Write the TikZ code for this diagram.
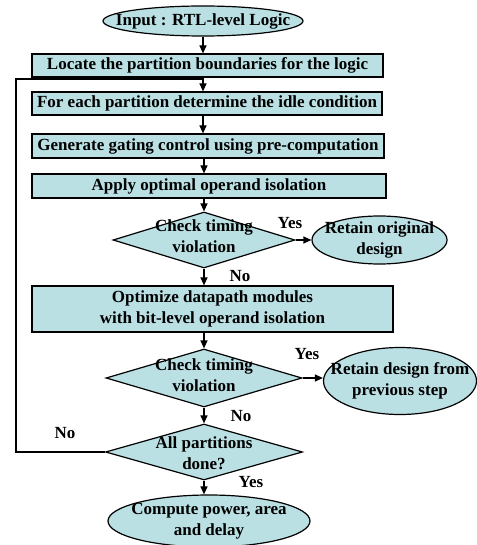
\documentclass[tikz,border=0pt]{standalone}
\usepackage{fontspec}
\setmainfont{Liberation Serif}
\usetikzlibrary{shapes.geometric,arrows.meta}
\definecolor{fillc}{RGB}{186,224,228}
\begin{document}
\begin{tikzpicture}[x=1bp,y=-1bp,
  every node/.style={font=\bfseries\fontsize{17bp}{21bp}\selectfont},
  box/.style={draw,fill=fillc,line width=1.2bp,inner sep=0pt},
  dia/.style={draw,fill=fillc,diamond,line width=1.2bp,inner sep=0pt},
  term/.style={draw,fill=fillc,ellipse,line width=1.2bp,inner sep=0pt},
  txt/.style={align=center,inner sep=0pt},
  conn/.style={line width=1.2bp},
  arr/.style={conn,-{Triangle[length=8bp,width=7bp]}},
  lab/.style={inner sep=0pt}
]
\useasboundingbox (0,0) rectangle (477,545);

% shapes
\node[term,minimum width=200bp,minimum height=30bp] (in) at (203,21) {};
\node[txt] (in-t) at (in) {Input : RTL-level Logic};

\node[box,minimum width=351bp,minimum height=23bp] (b1) at (207.5,65.5) {Locate the partition boundaries for the logic};
\node[box,minimum width=350bp,minimum height=23bp] (b2) at (207,103.5) {For each partition determine the idle condition};
\node[box,minimum width=352bp,minimum height=24bp] (b3) at (208,146) {Generate gating control using pre-computation};
\node[box,minimum width=354bp,minimum height=24bp] (b4) at (209,186) {Apply optimal operand isolation};

\node[dia,minimum width=182bp,minimum height=56bp] (d1) at (204,240) {};
\node[txt] (d1-t) at (204,236) {Check timing\\violation};
\node[term,minimum width=135bp,minimum height=48bp] (e1) at (379.5,240) {};
\node[txt] (e1-t) at (e1) {Retain original\\design};

\node[box,minimum width=361bp,minimum height=46bp,align=center] (b5) at (212.5,309) {Optimize datapath modules\\with bit-level operand isolation};

\node[dia,minimum width=196bp,minimum height=58bp] (d2) at (204,378) {};
\node[txt] (d2-t) at (204,375) {Check timing\\violation};
\node[term,minimum width=153bp,minimum height=67bp] (e2) at (400,381) {};
\node[txt] (e2-t) at (e2) {Retain design from\\previous step};

\node[dia,minimum width=197bp,minimum height=56bp] (d3) at (204,452) {};
\node[txt] (d3-t) at (204,453) {All partitions\\done?};

\node[term,minimum width=202bp,minimum height=52bp] (e3) at (209,521) {};
\node[txt] (e3-t) at (e3) {Compute power, area\\and delay};

% connectors
\coordinate (j) at (203,79);
\coordinate (fbx) at (16,0);
\draw[arr] (in.south) -- (b1.north -| in.south);
\draw[arr] (b1.south -| j) -- (b2.north -| j);
\draw[arr] (b2.south -| j) -- (b3.north -| j);
\draw[arr] (b3.south -| d1.north) -- (b4.north -| d1.north);
\draw[arr] (b4.south -| d1.north) -- (d1.north);
\draw[arr] (d1.east) -- (d1.east -| e1.west);
\draw[arr] (d1.south) -- (d1.south |- b5.north);
\draw[arr] (b5.south -| d2.north) -- (d2.north);
\draw[arr] (d2.east) -- (d2.east -| e2.west);
\draw[arr] (d2.south) -- (d3.north);
\draw[arr] (d3.south) -- (d3.south |- e3.north);
\draw[conn] (d3.west) -- (d3.west -| fbx) |- (j);

% labels
\node[lab] (y1) at (290,223) {Yes};
\node[lab] (n1) at (240,276) {No};
\node[lab] (y2) at (307,354) {Yes};
\node[lab] (n2) at (241,416) {No};
\node[lab] (n3) at (65,433) {No};
\node[lab] (y3) at (251,482) {Yes};
\end{tikzpicture}
\end{document}
